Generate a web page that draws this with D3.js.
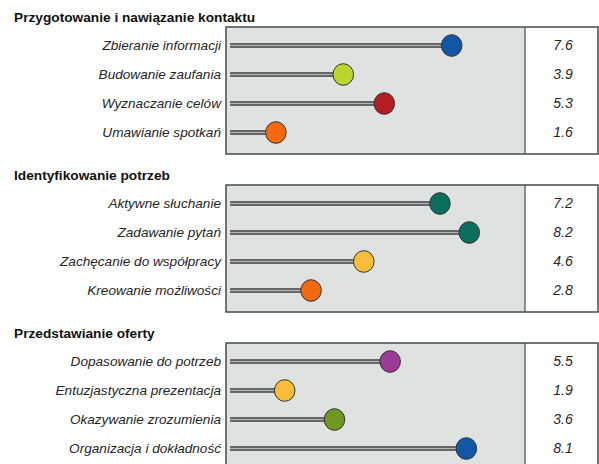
<!DOCTYPE html>
<html>
<head>
<meta charset="utf-8">
<script src="https://cdn.jsdelivr.net/npm/d3@7"></script>
<style>
  body { margin: 0; background: #fff; }
  text { font-family: "Liberation Sans", Arial, sans-serif; }
</style>
</head>
<body>
<script>
// sections of the chart
var groups = ["Przygotowanie i nawiązanie kontaktu", "Identyfikowanie potrzeb", "Przedstawianie oferty"];
var labels = [
  ["Zbieranie informacji", "Budowanie zaufania", "Wyznaczanie celów", "Umawianie spotkań"],
  ["Aktywne słuchanie", "Zadawanie pytań", "Zachęcanie do współpracy", "Kreowanie możliwości"],
  ["Dopasowanie do potrzeb", "Entuzjastyczna prezentacja", "Okazywanie zrozumienia", "Organizacja i dokładność"]
];
var values = [
  [7.6, 3.9, 5.3, 1.6],
  [7.2, 8.2, 4.6, 2.8],
  [5.5, 1.9, 3.6, 8.1]
];
var colors = [
  ["#1456a6", "#bcd62c", "#b51d24", "#f2690f"],
  ["#0b6f5f", "#0b6f5f", "#f6bd3b", "#f2690f"],
  ["#9a3b98", "#f6bd3b", "#6e981f", "#1456a6"]
];

var width = 599, height = 464;
var panelLeft = 226, divider = 525, panelRight = 598, panelH = 127;

var svg = d3.select("body").append("svg")
  .attr("width", width)
  .attr("height", height);

var x = d3.scaleLinear().domain([0, 10]).range([229, 522]);
var y = d3.scalePoint().domain(d3.range(4)).range([18.5, 105.5]);

groups.forEach(function(name, i) {
  var top = 27 + i * 158;
  var g = svg.append("g").attr("transform", "translate(0," + top + ")");

  g.append("text")
    .attr("x", 14).attr("y", -5)
    .attr("font-size", 13.7).attr("font-weight", "bold")
    .attr("fill", "#111")
    .text(name);

  g.append("rect")
    .attr("x", panelLeft).attr("y", 0)
    .attr("width", divider - panelLeft).attr("height", panelH)
    .attr("fill", "#dfe2e0");
  g.append("rect")
    .attr("x", divider).attr("y", 0)
    .attr("width", panelRight - divider).attr("height", panelH)
    .attr("fill", "#fff");

  var rows = labels[i].map(function(l, j) {
    return { label: l, value: values[i][j], color: colors[i][j], j: j };
  });

  g.selectAll(".lbl").data(rows).enter().append("text")
    .attr("class", "lbl")
    .attr("x", 221).attr("y", function(d) { return y(d.j); })
    .attr("dy", "0.35em")
    .attr("text-anchor", "end")
    .attr("font-size", 13.6).attr("font-style", "italic")
    .attr("fill", "#262626")
    .text(function(d) { return d.label; });

  g.selectAll(".stem").data(rows).enter().append("line")
    .attr("class", "stem")
    .attr("x1", 230).attr("x2", function(d) { return x(d.value); })
    .attr("y1", function(d) { return y(d.j); })
    .attr("y2", function(d) { return y(d.j); })
    .attr("stroke", "#666").attr("stroke-width", 5);
  g.selectAll(".stemhi").data(rows).enter().append("line")
    .attr("class", "stemhi")
    .attr("x1", 230).attr("x2", function(d) { return x(d.value); })
    .attr("y1", function(d) { return y(d.j); })
    .attr("y2", function(d) { return y(d.j); })
    .attr("stroke", "#b5b5b5").attr("stroke-width", 1);

  g.selectAll(".dot").data(rows).enter().append("ellipse")
    .attr("class", "dot")
    .attr("cx", function(d) { return x(d.value); })
    .attr("cy", function(d) { return y(d.j); })
    .attr("rx", 10.3).attr("ry", 10.8)
    .attr("fill", function(d) { return d.color; })
    .attr("stroke", "#333").attr("stroke-width", 1);

  g.selectAll(".val").data(rows).enter().append("text")
    .attr("class", "val")
    .attr("x", 563).attr("y", function(d) { return y(d.j); })
    .attr("dy", "0.35em")
    .attr("text-anchor", "middle")
    .attr("font-size", 14).attr("font-style", "italic")
    .attr("fill", "#262626")
    .text(function(d) { return d3.format(".1f")(d.value); });

  // borders
  g.append("rect")
    .attr("x", panelLeft).attr("y", 0)
    .attr("width", panelRight - panelLeft).attr("height", panelH)
    .attr("fill", "none").attr("stroke", "#4a4a4a").attr("stroke-width", 1.5);
  g.append("line")
    .attr("x1", divider).attr("x2", divider)
    .attr("y1", 0).attr("y2", panelH)
    .attr("stroke", "#4a4a4a").attr("stroke-width", 1.2);
});
</script>
</body>
</html>
